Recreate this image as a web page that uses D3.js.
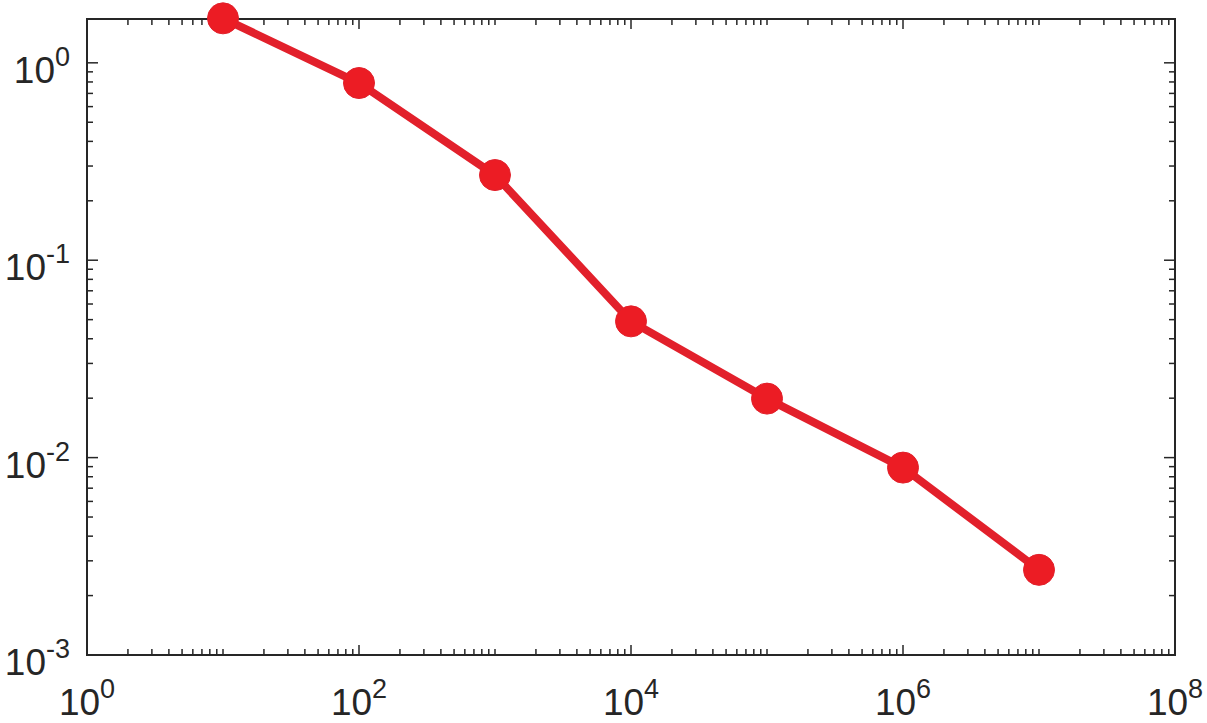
<!DOCTYPE html>
<html>
<head>
<meta charset="utf-8">
<script src="https://cdn.jsdelivr.net/npm/d3@7"></script>
<style>
  body { margin: 0; background: #fff; }
  svg text { font-family: "Liberation Sans", Arial, sans-serif; fill: #262626; }
</style>
</head>
<body>
<svg id="chart" width="1207" height="723"></svg>
<script>
// data
const xValues = [1e1, 1e2, 1e3, 1e4, 1e5, 1e6, 1e7];
const yValues = [1.68, 0.79, 0.27, 0.049, 0.0199, 0.0089, 0.0027];
const xTickExps = [0, 2, 4, 6, 8];
const yTickExps = [-3, -2, -1, 0];

const margin = { left: 87, top: 19, right: 32, bottom: 68 };
const width = 1207, height = 723;
const svg = d3.select("#chart");

const x = d3.scaleLog().domain([1e0, 1e8]).range([margin.left, width - margin.right]);
// top of the box sits a bit above 10^0
const y = d3.scaleLog().domain([1e-3, Math.pow(10, 0.222)]).range([height - margin.bottom, margin.top]);

const x0 = margin.left, x1 = width - margin.right;
const y0 = height - margin.bottom, y1 = margin.top;

// minor + major ticks (inward on all four sides)
const g = svg.append("g").attr("stroke", "#262626").attr("stroke-width", 1.5);
const xTicks = [];
for (let e = 0; e < 8; e++) for (let m = 1; m < 10; m++) xTicks.push({ v: m * Math.pow(10, e), major: m === 1 && e % 2 === 0 });
xTicks.push({ v: 1e8, major: true });
const yTicks = [];
for (let e = -3; e < 1; e++) for (let m = 1; m < 10; m++) {
  const v = m * Math.pow(10, e);
  if (v <= y.domain()[1]) yTicks.push({ v, major: m === 1 });
}

xTicks.forEach(t => {
  const len = t.major ? 10 : 6;
  g.append("line").attr("x1", x(t.v)).attr("x2", x(t.v)).attr("y1", y0).attr("y2", y0 - len);
  g.append("line").attr("x1", x(t.v)).attr("x2", x(t.v)).attr("y1", y1).attr("y2", y1 + len);
});
yTicks.forEach(t => {
  const len = t.major ? 11 : 6;
  g.append("line").attr("y1", y(t.v)).attr("y2", y(t.v)).attr("x1", x0).attr("x2", x0 + len);
  g.append("line").attr("y1", y(t.v)).attr("y2", y(t.v)).attr("x1", x1).attr("x2", x1 - len);
});

svg.append("rect")
  .attr("x", x0).attr("y", y1).attr("width", x1 - x0).attr("height", y0 - y1)
  .attr("fill", "none").attr("stroke", "#262626").attr("stroke-width", 2);

// tick labels 10^n
xTickExps.forEach(e => {
  const t = svg.append("text").attr("x", x(Math.pow(10, e))).attr("y", 715)
    .attr("text-anchor", "middle").attr("font-size", 37);
  t.append("tspan").text("10");
  t.append("tspan").attr("dy", -17).attr("font-size", 27).text(e);
});
yTickExps.forEach(e => {
  const t = svg.append("text").attr("x", 70).attr("y", y(Math.pow(10, e)) + 20)
    .attr("text-anchor", "end").attr("font-size", 37);
  t.append("tspan").text("10");
  t.append("tspan").attr("dy", -17).attr("font-size", 27).text(e);
});

// series
const pts = xValues.map((v, i) => [v, yValues[i]]);
svg.append("path")
  .datum(pts)
  .attr("fill", "none")
  .attr("stroke", "#e2202b")
  .attr("stroke-width", 8)
  .attr("stroke-linejoin", "round")
  .attr("d", d3.line().x(d => x(d[0])).y(d => y(d[1])));

svg.selectAll("circle.pt")
  .data(pts)
  .enter()
  .append("circle")
  .attr("class", "pt")
  .attr("cx", d => x(d[0]))
  .attr("cy", d => y(d[1]))
  .attr("r", 15.5)
  .attr("fill", "#ec1c24")
  .attr("stroke", "#e2202b")
  .attr("stroke-width", 1);
</script>
</body>
</html>
